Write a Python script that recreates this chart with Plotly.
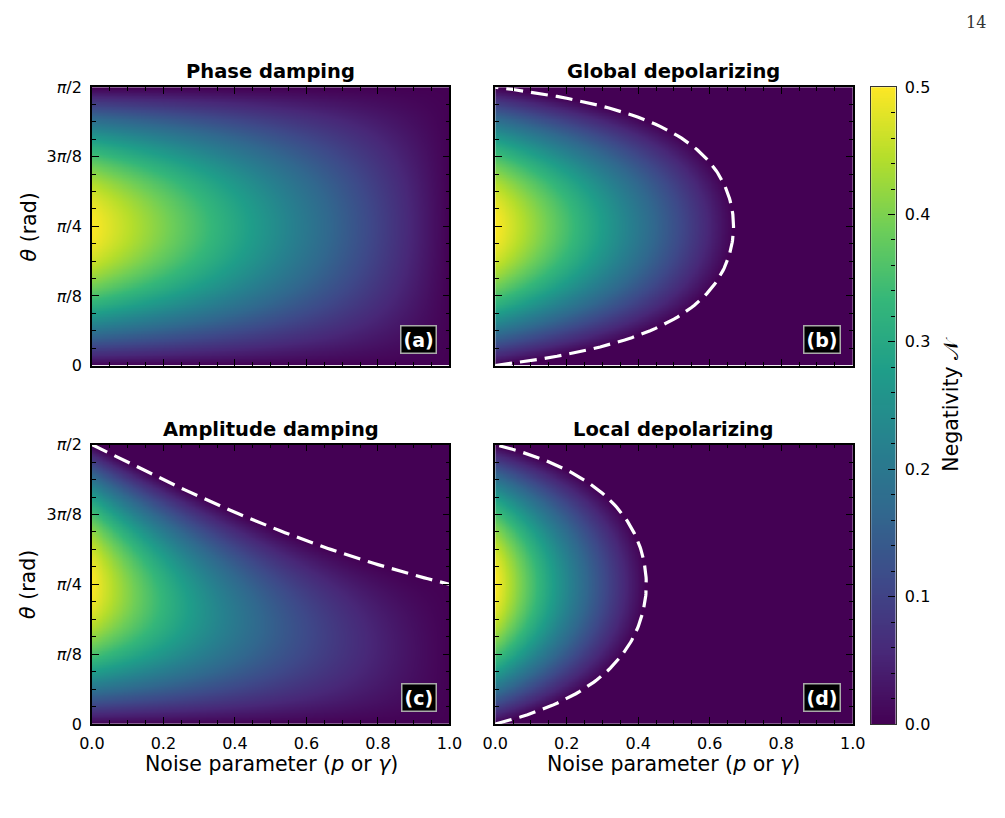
import numpy as np
import plotly.graph_objects as go

# ---- data ----
noise_p = np.linspace(0.0, 1.0, 251)                # noise parameter (p or gamma)
theta = np.linspace(0.0, np.pi / 2, 181)           # state angle
panel_titles = ["Phase damping", "Global depolarizing", "Amplitude damping", "Local depolarizing"]
panel_tags = ["(a)", "(b)", "(c)", "(d)"]
x_ticks = [0.0, 0.2, 0.4, 0.6, 0.8, 1.0]
x_ticktext = ["0.0", "0.2", "0.4", "0.6", "0.8", "1.0"]
y_ticks = [0, np.pi / 8, np.pi / 4, 3 * np.pi / 8, np.pi / 2]
y_ticktext = ["0", "<i>π</i>/8", "<i>π</i>/4", "3<i>π</i>/8", "<i>π</i>/2"]
cb_ticks = [0.0, 0.1, 0.2, 0.3, 0.4, 0.5]
cb_ticktext = ["0.0", "0.1", "0.2", "0.3", "0.4", "0.5"]

P, T = np.meshgrid(noise_p, theta)
S, C = np.sin(T), np.cos(T)
S2 = np.sin(2 * T)
z_phase = (1 - P) * S2 / 2
z_global = np.maximum(0, (1 - P) * S2 / 2 - P / 4)
z_amp = np.maximum(0, (1 - P) * S * (C - P * S))
z_local = np.maximum(0, (1 - P) ** 2 * S2 / 2 - P * (2 - P) / 4)
z_list = [np.round(z, 4) for z in (z_phase, z_global, z_amp, z_local)]

# sudden-death boundaries
th_b = np.linspace(0, np.pi / 2, 121)
s2b = np.sin(2 * th_b)
glob_bx = 2 * s2b / (1 + 2 * s2b)
loc_bx = 1 - 1 / np.sqrt(1 + 2 * s2b)
g_amp = np.linspace(0, 1, 101)
amp_by = np.arctan2(1, g_amp)

W, H = 1005, 818
def px(x): return x / W
def py(y): return 1 - y / H

x_dom = [[px(81), px(448)], [px(495), px(862)], [px(81), px(448)], [px(495), px(862)]]
y_dom = [[py(365), py(80)], [py(365), py(80)], [py(732), py(446)], [py(732), py(446)]]

fig = go.Figure()
font_main = "DejaVu Sans"

for i in range(4):
    xa = "x" if i == 0 else f"x{i+1}"
    ya = "y" if i == 0 else f"y{i+1}"
    fig.add_trace(go.Heatmap(x=noise_p, y=theta, z=z_list[i], colorscale="Viridis",
                             zmin=0, zmax=0.5, showscale=False, zsmooth="best",
                             xaxis=xa, yaxis=ya, hoverinfo="skip"))

line_style = dict(color="white", width=3.2, dash="17px,8px")
fig.add_trace(go.Scatter(x=glob_bx, y=th_b, mode="lines", line=line_style, xaxis="x2", yaxis="y2", showlegend=False))
fig.add_trace(go.Scatter(x=g_amp, y=amp_by, mode="lines", line=line_style, xaxis="x3", yaxis="y3", showlegend=False))
fig.add_trace(go.Scatter(x=loc_bx, y=th_b, mode="lines", line=line_style, xaxis="x4", yaxis="y4", showlegend=False))

# colour scale bar drawn as a heatmap strip
cb_vals = np.linspace(0, 0.5, 256)
fig.add_trace(go.Heatmap(x=[0, 1], y=cb_vals, z=np.column_stack([cb_vals, cb_vals]),
                         colorscale="Viridis", zmin=0, zmax=0.5, showscale=False,
                         xaxis="x5", yaxis="y5", hoverinfo="skip"))

common = dict(showline=True, linecolor="black", linewidth=1.6, mirror="allticks",
              ticks="inside", ticklen=7, tickwidth=1.2, tickcolor="black",
              showgrid=False, zeroline=False,
              tickfont=dict(family=font_main, size=16, color="black"))
layout = dict(width=W, height=H, margin=dict(l=0, r=0, t=0, b=0),
              paper_bgcolor="white", plot_bgcolor="white", showlegend=False)

for i in range(4):
    xk = "xaxis" if i == 0 else f"xaxis{i+1}"
    yk = "yaxis" if i == 0 else f"yaxis{i+1}"
    ya = "y" if i == 0 else f"y{i+1}"
    xa = "x" if i == 0 else f"x{i+1}"
    layout[xk] = dict(common, domain=x_dom[i], anchor=ya, range=[0, 1], ticklabelstandoff=4,
                      tickvals=x_ticks, ticktext=x_ticktext, showticklabels=(i >= 2),
                      minor=dict(ticks="inside", ticklen=4, tickwidth=1, tickcolor="black",
                                 dtick=0.05, tick0=0, showgrid=False))
    layout[yk] = dict(common, domain=y_dom[i], anchor=xa, range=[0, np.pi / 2], ticklabelstandoff=5,
                      tickvals=y_ticks, ticktext=y_ticktext, showticklabels=(i % 2 == 0),
                      minor=dict(ticks="inside", ticklen=4, tickwidth=1, tickcolor="black",
                                 tickvals=[k * np.pi / 32 for k in range(17)], showgrid=False))

layout["xaxis5"] = dict(domain=[px(881), px(906)], anchor="y5", range=[0, 1], showticklabels=False,
                        ticks="", showline=True, linecolor="#333", linewidth=1.2, mirror=True,
                        showgrid=False, zeroline=False)
layout["yaxis5"] = dict(domain=[py(732), py(80)], anchor="x5", side="right", range=[0, 0.5],
                        showline=True, linecolor="#333", linewidth=1.2, mirror=True,
                        ticks="inside", ticklen=7, tickwidth=1.2, tickcolor="black",
                        tickvals=cb_ticks, ticktext=cb_ticktext, showgrid=False, zeroline=False,
                        ticklabelstandoff=5,
                        tickfont=dict(family=font_main, size=16, color="black"),
                        minor=dict(ticks="inside", ticklen=4, tickwidth=1, tickcolor="black",
                                   dtick=0.02, tick0=0, showgrid=False))

annotations = []
for i in range(4):
    xa = "x" if i == 0 else f"x{i+1}"
    ya = "y" if i == 0 else f"y{i+1}"
    annotations.append(dict(text=f"<b>{panel_titles[i]}</b>", xref=f"{xa} domain", yref=f"{ya} domain",
                            x=0.5, y=1, yanchor="bottom", xanchor="center", yshift=2, showarrow=False,
                            font=dict(family=font_main, size=19.5, color="black")))
    annotations.append(dict(text=f"<b>{panel_tags[i]}</b>", xref=f"{xa} domain", yref=f"{ya} domain",
                            x=1, y=0, xanchor="right", yanchor="bottom", xshift=-12, yshift=12,
                            showarrow=False, bgcolor="black", bordercolor="#aaaaaa", borderwidth=1.5,
                            borderpad=2, font=dict(family=font_main, size=19, color="white")))

for yc in (223, 589):
    annotations.append(dict(text="<i>θ</i> (rad)", xref="paper", yref="paper", x=px(16), y=py(yc),
                            textangle=-90, showarrow=False, xanchor="center", yanchor="middle",
                            font=dict(family=font_main, size=20.5, color="black")))
for xc in (265, 678):
    annotations.append(dict(text="Noise parameter (<i>p</i> or <i>γ</i>)", xref="paper", yref="paper",
                            x=px(xc), y=py(773), showarrow=False, xanchor="center", yanchor="middle",
                            font=dict(family=font_main, size=20.5, color="black")))
annotations.append(dict(text="Negativity 𝒩", xref="paper", yref="paper", x=px(962), y=py(405),
                        textangle=-90, showarrow=False, xanchor="center", yanchor="middle",
                        font=dict(family=font_main, size=20.5, color="black")))
annotations.append(dict(text="14", xref="paper", yref="paper", x=px(989), y=py(14), showarrow=False,
                        xanchor="center", yanchor="middle",
                        font=dict(family="DejaVu Serif", size=16, color="#333")))
layout["annotations"] = annotations

fig.update_layout(**layout)
fig.write_html("out.html")
